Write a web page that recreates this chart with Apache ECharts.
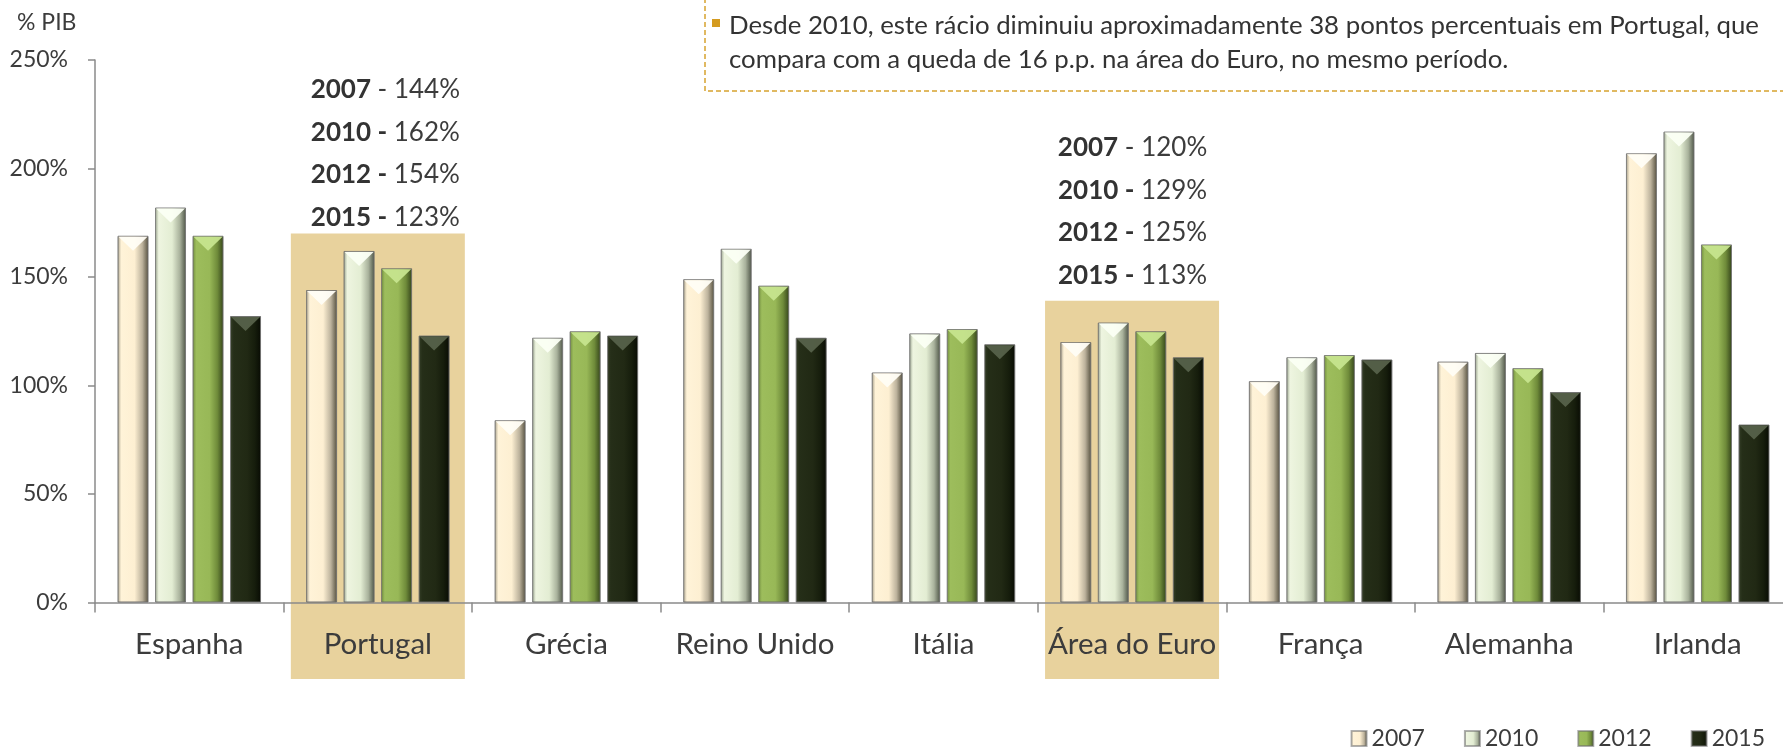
<!DOCTYPE html>
<html>
<head>
<meta charset="utf-8">
<title>Dívida total em % do PIB</title>
<script src="https://cdn.jsdelivr.net/npm/echarts@6/dist/echarts.min.js"></script>
<style>
  html, body { margin: 0; padding: 0; background: #fff; }
  #chart_container { width: 1783px; height: 747px; }
</style>
</head>
<body>
<div id="chart_container"></div>
<script>
// data (% of GDP)
var categories = ['Espanha', 'Portugal', 'Grécia', 'Reino Unido', 'Itália', 'Área do Euro', 'França', 'Alemanha', 'Irlanda'];
var years = ['2007', '2010', '2012', '2015'];
var v2007 = [169, 144, 84, 149, 106, 120, 102, 111, 207];
var v2010 = [182, 162, 122, 163, 124, 129, 113, 115, 217];
var v2012 = [169, 154, 125, 146, 126, 125, 114, 108, 165];
var v2015 = [132, 123, 123, 122, 119, 113, 112, 97, 82];
var yMin = 0, yMax = 250, yStep = 50;
var highlighted = ['Portugal', 'Área do Euro'];
var note = ['Desde 2010, este rácio diminuiu aproximadamente 38 pontos percentuais em Portugal, que',
            'compara com a queda de 16 p.p. na área do Euro, no mesmo período.'];

var FONT = 'Lato';
var TXT = '#3c3c3c';
var AXIS = '#8a8a8a';

var dom = document.getElementById('chart_container');
var myChart = echarts.init(dom);

function bevel(stops) {
    return {
        type: 'linear', x: 0, y: 0, x2: 1, y2: 0,
        colorStops: stops.map(function (c, i) { return { offset: [0, 0.12, 0.55, 0.8, 1][i], color: c }; })
    };
}

var looks = [
    { fill: bevel(['#a59d88', '#fff3d8', '#fdefd2', '#bcb29c', '#55503f']), top: '#fffdf6' },
    { fill: bevel(['#959f8a', '#eef5e0', '#e3edd3', '#a9b29c', '#4d5446']), top: '#fbfff4' },
    { fill: bevel(['#6f8a3e', '#9dbd5c', '#98b857', '#6f8b3a', '#34441a']), top: '#c6e48e' },
    { fill: bevel(['#353f28', '#252e18', '#212914', '#161d0c', '#080b03']), top: '#56614a' }
];
var values = [v2007, v2010, v2012, v2015];

var BAR_W = 31, BAR_GAP = '21%';
var series_list = [];
years.forEach(function (y, i) {
    series_list.push({
        name: y,
        type: 'bar',
        data: values[i],
        barWidth: BAR_W,
        barGap: BAR_GAP,
        itemStyle: { color: looks[i].fill, borderColor: 'rgba(110,110,110,0.55)', borderWidth: 1 },
        emphasis: { disabled: true }
    });
});
// bevelled tops, laid out by the same bar grid (4 pictorial series, same width and gap)
years.forEach(function (y, i) {
    series_list.push({
        name: y + ' topo',
        type: 'pictorialBar',
        data: values[i],
        barWidth: BAR_W,
        barGap: BAR_GAP,
        symbol: 'path://M0,0L2,0L1,1Z',
        symbolSize: [BAR_W - 2, 14],
        symbolPosition: 'end',
        symbolOffset: [0, 1],
        itemStyle: { color: looks[i].top, opacity: 0.95 },
        z: 3,
        silent: true
    });
});

option = {
    animation: false,
    textStyle: { fontFamily: FONT },
    grid: { left: 95, top: 60, width: 1697, height: 542.5, containLabel: false, outerBoundsMode: 'none' },
    legend: {
        data: years,
        right: 13,
        top: 722,
        itemWidth: 15,
        itemHeight: 15,
        itemGap: 39,
        icon: 'rect',
        textStyle: { fontFamily: FONT, fontSize: 23, color: TXT }
    },
    xAxis: {
        type: 'category',
        data: categories,
        axisLine: { lineStyle: { color: AXIS, width: 1.5 } },
        axisTick: { show: true, length: 10, interval: 0, lineStyle: { color: AXIS, width: 1.5 } },
        axisLabel: { interval: 0, margin: 27, fontFamily: FONT, fontSize: 29.5, color: TXT },
        splitLine: { show: false }
    },
    yAxis: {
        type: 'value',
        min: yMin,
        max: yMax,
        interval: yStep,
        name: '% PIB',
        nameLocation: 'end',
        nameGap: 0,
        nameTextStyle: { fontFamily: FONT, fontSize: 23, color: TXT, align: 'left', padding: [0, 0, 26, -78] },
        axisLine: { show: true, lineStyle: { color: AXIS, width: 1.5 } },
        axisTick: { show: true, length: 7, lineStyle: { color: AXIS, width: 1.5 } },
        axisLabel: { margin: 27, fontFamily: FONT, fontSize: 23, color: TXT, formatter: '{value}%' },
        splitLine: { show: false }
    },
    series: series_list
};

myChart.setOption(option, true);

// highlight boxes and the value lists above them, placed with the chart's own scales
var boxTop = [170, 139];       // % level of each box top
var textGap = [16, 25.5];      // px between last text line and box top
var textShift = [7.5, 0.5];    // px horizontal nudge of each text block
var lineStep = 42.5;
var graphics = [];
highlighted.forEach(function (cat, k) {
    var idx = categories.indexOf(cat);
    var xc = myChart.convertToPixel({ xAxisIndex: 0 }, cat);
    var yt = myChart.convertToPixel({ yAxisIndex: 0 }, boxTop[k]);
    graphics.push({
        type: 'rect', z: -10, silent: true,
        shape: { x: xc - 87, y: yt, width: 174, height: 679 - yt },
        style: { fill: '#e8d29d' }
    });
    years.forEach(function (y, i) {
        var cy = yt - textGap[k] - (years.length - 1 - i) * lineStep;
        graphics.push({
            type: 'text', z: 5, silent: true,
            x: xc + textShift[k], y: cy,
            style: {
                text: '{b|' + y + (i === 0 ? '}{n| - ' : ' -}{n| ') + values[i][idx] + '%}',
                align: 'center', verticalAlign: 'middle',
                rich: {
                    b: { fontFamily: FONT, fontWeight: 'bold', fontSize: 26, fill: '#333333' },
                    n: { fontFamily: FONT, fontSize: 26, fill: '#3c3c3c' }
                }
            }
        });
    });
});

// note box at the top right
graphics.push({
    type: 'rect', silent: true,
    shape: { x: 705, y: -5, width: 1200, height: 96 },
    style: { fill: 'none', stroke: '#d6a22f', lineWidth: 1.5, lineDash: [5, 3] }
});
graphics.push({
    type: 'rect', silent: true,
    shape: { x: 712, y: 19, width: 8, height: 8 },
    style: { fill: '#d49b20' }
});
note.forEach(function (line, i) {
    graphics.push({
        type: 'text', silent: true,
        x: 729, y: 26 + i * 34,
        style: { text: line, fontFamily: FONT, fontSize: 25.8, fill: '#333333', verticalAlign: 'middle' }
    });
});

myChart.setOption({ graphic: graphics });
myChart.resize();
</script>
</body>
</html>
